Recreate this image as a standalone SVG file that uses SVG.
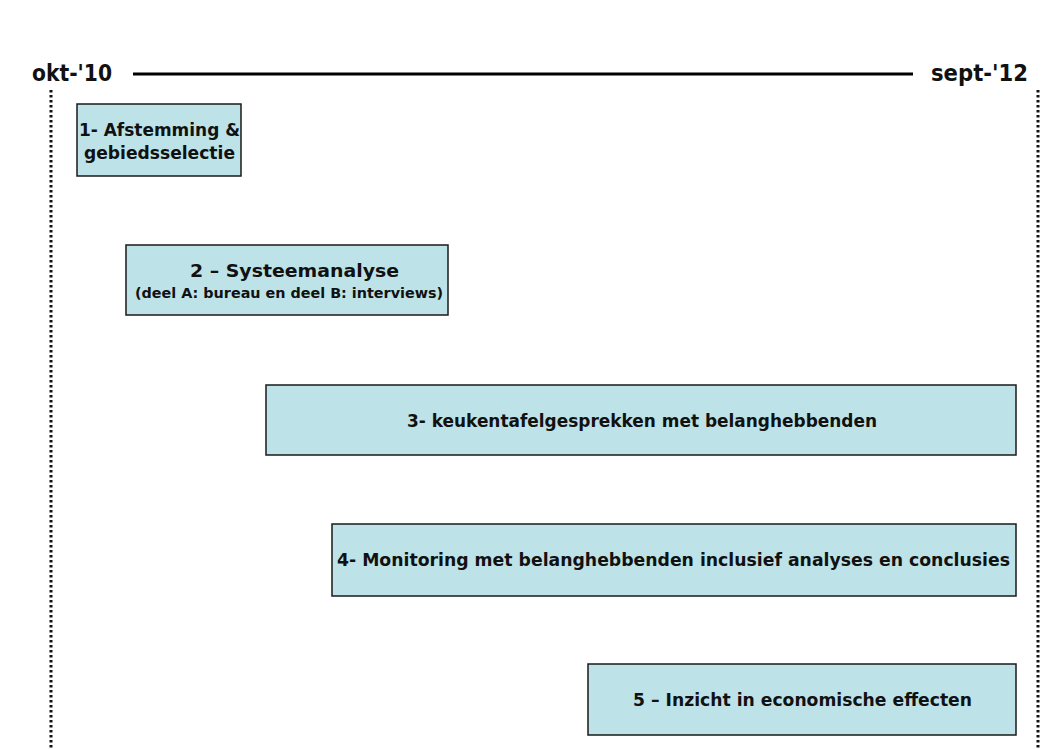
<svg xmlns="http://www.w3.org/2000/svg" width="1043" height="749" viewBox="0 0 1043 749">
  <style>
    .box { fill: #bde3e8; stroke: #1a1a1a; stroke-width: 1.5; }
    .lbl { font-family: "DejaVu Sans", "Liberation Sans", sans-serif; font-weight: bold; fill: #111; }
    .big { font-size: 17.5px; }
    .small { font-size: 13.5px; }
    .date { font-family: "DejaVu Sans", "Liberation Sans", sans-serif; font-weight: bold; font-size: 23px; fill: #111; }
    .dots { stroke: #111; stroke-width: 3; stroke-dasharray: 2.5 2.5; fill: none; }
  </style>
  <rect width="1043" height="749" fill="#ffffff"/>

  <g id="timeline">
    <text class="date" x="32" y="81" textLength="80" lengthAdjust="spacingAndGlyphs">okt-'10</text>
    <line x1="133" y1="74" x2="913" y2="74" stroke="#000" stroke-width="3"/>
    <text class="date" x="931" y="81" textLength="97" lengthAdjust="spacingAndGlyphs">sept-'12</text>
    <line class="dots" x1="51" y1="90" x2="51" y2="749"/>
    <line class="dots" x1="1038" y1="90" x2="1038" y2="749"/>
  </g>

  <g id="n1">
    <rect class="box" x="77" y="104" width="164" height="72"/>
    <text class="lbl big" x="79" y="136" textLength="161" lengthAdjust="spacingAndGlyphs">1- Afstemming &amp;</text>
    <text class="lbl big" x="84" y="159" textLength="151" lengthAdjust="spacingAndGlyphs">gebiedsselectie</text>
  </g>

  <g id="n2">
    <rect class="box" x="126" y="245" width="322" height="70"/>
    <text class="lbl big" x="190" y="277" textLength="209" lengthAdjust="spacingAndGlyphs">2 – Systeemanalyse</text>
    <text class="lbl small" x="135" y="298" textLength="308" lengthAdjust="spacingAndGlyphs">(deel A: bureau en deel B: interviews)</text>
  </g>

  <g id="n3">
    <rect class="box" x="266" y="385" width="750" height="70"/>
    <text class="lbl big" x="407" y="427" textLength="470" lengthAdjust="spacingAndGlyphs">3- keukentafelgesprekken met belanghebbenden</text>
  </g>

  <g id="n4">
    <rect class="box" x="332" y="524" width="684" height="72"/>
    <text class="lbl big" x="337" y="566" textLength="673" lengthAdjust="spacingAndGlyphs">4- Monitoring met belanghebbenden inclusief analyses en conclusies</text>
  </g>

  <g id="n5">
    <rect class="box" x="588" y="664" width="428" height="71"/>
    <text class="lbl big" x="633" y="706" textLength="339" lengthAdjust="spacingAndGlyphs">5 – Inzicht in economische effecten</text>
  </g>
</svg>
